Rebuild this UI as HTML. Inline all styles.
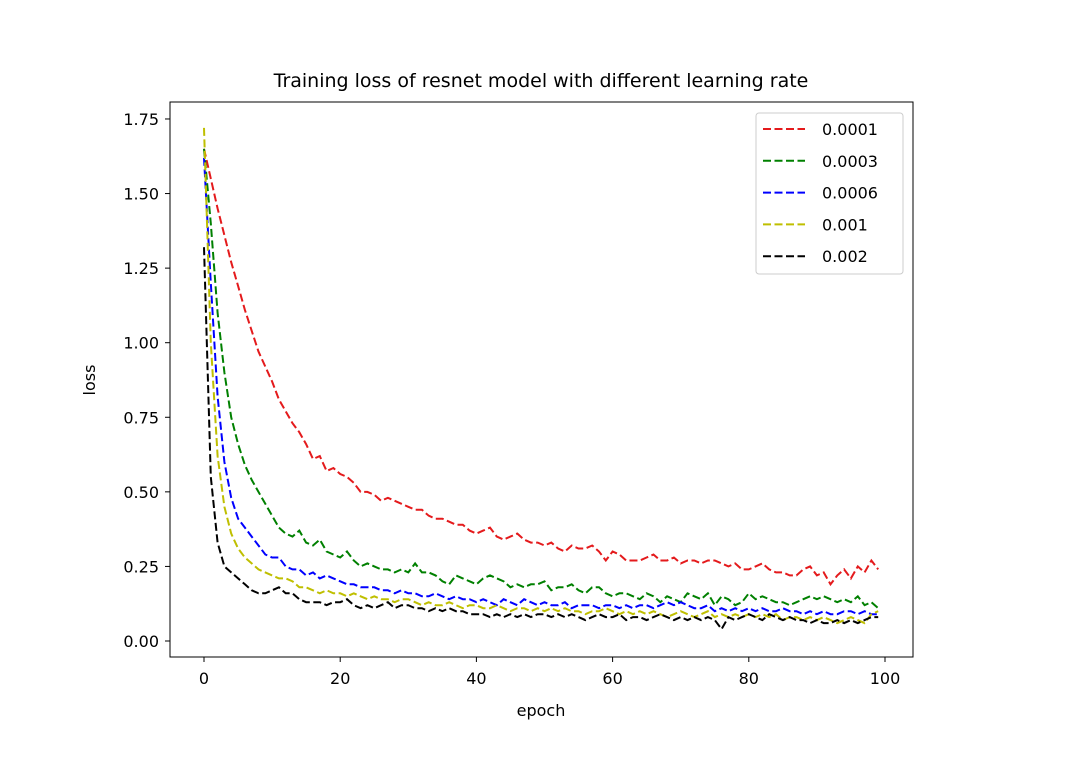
<!DOCTYPE html>
<html><head><meta charset="utf-8"><style>
body{margin:0;background:#fff;}
svg{display:block;font-family:"DejaVu Sans","Liberation Sans",sans-serif;}
</style></head><body>
<svg id="chart" width="1070" height="775">
<rect width="1070" height="775" fill="#fff"/>
<text x="541" y="87" text-anchor="middle" font-size="19" fill="#000">Training loss of resnet model with different learning rate</text>
<g id="plot"></g>
<rect x="170" y="102" width="743" height="555" fill="none" stroke="#000" stroke-width="1"/>
<text x="541" y="716" text-anchor="middle" font-size="16">epoch</text>
<text x="95" y="380" text-anchor="middle" font-size="16" transform="rotate(-90 95 380)">loss</text>
<g id="legend"></g>
</svg>
<script>
const xTicks=[0,20,40,60,80,100];
const yTicks=[0,0.25,0.5,0.75,1.0,1.25,1.5,1.75];
const yTickLabels=["0.00","0.25","0.50","0.75","1.00","1.25","1.50","1.75"];
const seriesNames=["0.0001","0.0003","0.0006","0.001","0.002"];
const seriesColors=["#e41a1c","#008000","#0000ff","#bfbf00","#000000"];
const lr0001=[1.65,1.55,1.45,1.36,1.27,1.19,1.11,1.04,0.97,0.92,0.87,0.81,0.77,0.73,0.70,0.66,0.61,0.62,0.57,0.58,0.56,0.55,0.53,0.50,0.50,0.49,0.47,0.48,0.47,0.46,0.45,0.44,0.44,0.42,0.41,0.41,0.40,0.39,0.39,0.37,0.36,0.37,0.38,0.35,0.34,0.35,0.36,0.34,0.33,0.33,0.32,0.33,0.31,0.30,0.32,0.31,0.31,0.32,0.30,0.27,0.30,0.29,0.27,0.27,0.27,0.28,0.29,0.27,0.27,0.28,0.26,0.27,0.27,0.26,0.27,0.27,0.26,0.25,0.26,0.24,0.24,0.25,0.26,0.24,0.23,0.23,0.22,0.22,0.24,0.25,0.22,0.23,0.19,0.22,0.24,0.21,0.25,0.23,0.27,0.24];
const lr0003=[1.65,1.40,1.10,0.90,0.75,0.66,0.59,0.54,0.50,0.46,0.42,0.38,0.36,0.35,0.37,0.33,0.32,0.34,0.30,0.29,0.28,0.30,0.27,0.25,0.26,0.25,0.24,0.24,0.23,0.24,0.23,0.26,0.23,0.23,0.22,0.20,0.19,0.22,0.21,0.20,0.19,0.21,0.22,0.21,0.20,0.18,0.19,0.18,0.19,0.19,0.20,0.17,0.18,0.18,0.19,0.17,0.16,0.18,0.18,0.16,0.15,0.16,0.16,0.15,0.14,0.16,0.15,0.13,0.15,0.14,0.13,0.16,0.15,0.14,0.16,0.12,0.15,0.14,0.12,0.13,0.16,0.14,0.15,0.14,0.13,0.13,0.12,0.13,0.14,0.15,0.14,0.15,0.14,0.13,0.14,0.13,0.15,0.12,0.13,0.11];
const lr0006=[1.62,1.20,0.82,0.60,0.48,0.41,0.38,0.35,0.32,0.29,0.28,0.28,0.25,0.24,0.24,0.22,0.23,0.21,0.22,0.21,0.20,0.19,0.19,0.18,0.18,0.18,0.17,0.17,0.16,0.17,0.16,0.16,0.15,0.15,0.16,0.15,0.14,0.15,0.14,0.14,0.13,0.14,0.13,0.12,0.14,0.13,0.12,0.14,0.13,0.12,0.13,0.12,0.12,0.13,0.11,0.12,0.12,0.12,0.11,0.12,0.12,0.11,0.12,0.11,0.12,0.12,0.11,0.12,0.13,0.12,0.13,0.12,0.11,0.11,0.12,0.10,0.11,0.10,0.11,0.10,0.11,0.10,0.11,0.10,0.10,0.11,0.10,0.10,0.09,0.10,0.09,0.10,0.09,0.09,0.10,0.10,0.09,0.10,0.09,0.09];
const lr001=[1.72,1.00,0.62,0.45,0.36,0.31,0.28,0.26,0.24,0.23,0.22,0.21,0.21,0.20,0.18,0.18,0.17,0.16,0.17,0.16,0.16,0.15,0.16,0.15,0.14,0.15,0.14,0.14,0.13,0.14,0.14,0.13,0.12,0.13,0.12,0.12,0.13,0.12,0.11,0.12,0.12,0.11,0.11,0.12,0.11,0.10,0.11,0.11,0.10,0.11,0.10,0.11,0.10,0.11,0.10,0.10,0.09,0.10,0.10,0.11,0.10,0.09,0.10,0.09,0.10,0.09,0.10,0.09,0.08,0.09,0.10,0.09,0.08,0.09,0.10,0.08,0.09,0.08,0.09,0.08,0.09,0.08,0.09,0.08,0.09,0.07,0.08,0.08,0.07,0.08,0.07,0.08,0.07,0.06,0.07,0.08,0.07,0.06,0.09,0.10];
const lr002=[1.32,0.55,0.33,0.25,0.23,0.21,0.19,0.17,0.16,0.16,0.17,0.18,0.16,0.16,0.14,0.13,0.13,0.13,0.12,0.13,0.13,0.14,0.12,0.11,0.12,0.11,0.12,0.13,0.11,0.12,0.12,0.11,0.11,0.10,0.11,0.10,0.11,0.10,0.10,0.09,0.09,0.09,0.08,0.09,0.08,0.09,0.08,0.09,0.08,0.09,0.09,0.08,0.09,0.08,0.09,0.08,0.07,0.08,0.09,0.08,0.08,0.09,0.07,0.08,0.08,0.07,0.08,0.09,0.08,0.07,0.08,0.07,0.08,0.07,0.08,0.07,0.04,0.08,0.07,0.08,0.09,0.08,0.07,0.09,0.08,0.07,0.08,0.07,0.07,0.06,0.07,0.06,0.06,0.07,0.06,0.07,0.06,0.07,0.08,0.08];
const allSeries=[lr0001,lr0003,lr0006,lr001,lr002];
const NS="http://www.w3.org/2000/svg";
function xs(v){return 204+v*6.81;}
function ys(v){return 641-v*298.3;}
const plot=document.getElementById('plot');
function mk(tag,attrs,parent){const e=document.createElementNS(NS,tag);for(const k in attrs)e.setAttribute(k,attrs[k]);parent.appendChild(e);return e;}
xTicks.forEach(t=>{
  const l=mk('line',{x1:xs(t),x2:xs(t),y1:657,y2:662,stroke:'#000'},plot);
  
  
  const tx=mk('text',{x:xs(t),y:684,'text-anchor':'middle','font-size':16},plot);
  tx.textContent=t;
  
  
});
yTicks.forEach((t,i)=>{
  const l=mk('line',{x1:165,x2:170,y1:ys(t),y2:ys(t),stroke:'#000'},plot);
  
  
  const tx=mk('text',{x:159,y:ys(t)+6,'text-anchor':'end','font-size':16},plot);
  tx.textContent=yTickLabels[i];
  
  
});
allSeries.forEach((s,k)=>{
  const d=s.map((v,i)=>(i?'L':'M')+xs(i).toFixed(1)+','+ys(v).toFixed(1)).join(' ');
  const p=mk('path',{d:d,fill:'none',stroke:seriesColors[k],'stroke-width':2,'stroke-dasharray':'8,3.5'},plot);
  
  
});
const lg=document.getElementById('legend');
const box=mk('rect',{x:756,y:113,width:147,height:161,rx:3,fill:'#fff',stroke:'#ccc'},lg);


seriesNames.forEach((n,k)=>{
  const y=129+k*31.8;
  const l=mk('line',{x1:763,x2:805,y1:y,y2:y,stroke:seriesColors[k],'stroke-width':2,'stroke-dasharray':'8,3.5'},lg);
  
  
  const t=mk('text',{x:822,y:y+6,'font-size':16},lg);
  t.textContent=n;
  
  
});
</script>
</body></html>
